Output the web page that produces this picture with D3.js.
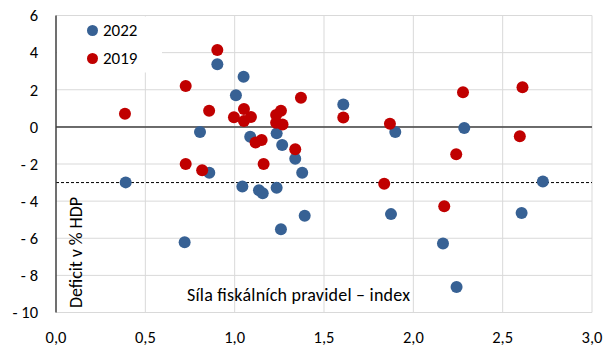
<!DOCTYPE html>
<html>
<head>
<meta charset="utf-8">
<script src="https://cdn.jsdelivr.net/npm/d3@7"></script>
<style>
  html, body { margin: 0; padding: 0; background: #fff; }
  svg { display: block; }
  text { font-family: Carlito, Lato, "Noto Sans", sans-serif; fill: #000; }
</style>
</head>
<body>
<svg id="chart" width="611" height="352"></svg>
<script>
// Fiscal-rule strength index (x) against budget deficit, % of GDP (y)
const series = ["2022", "2019"];
const colors = ["#376194", "#C00000"];

const index2022 = [0.39, 0.72, 0.806, 0.903, 0.858, 1.050, 1.007, 1.087, 1.235, 1.266,
                   1.339, 1.378, 1.608, 1.899, 2.285, 1.043, 1.136, 1.157, 1.235, 1.392,
                   1.259, 1.875, 2.166, 2.242, 2.606, 2.725];
const deficit2022 = [-2.99, -6.21, -0.28, 3.37, -2.47, 2.70, 1.71, -0.53, -0.35, -0.98,
                     -1.72, -2.47, 1.21, -0.28, -0.06, -3.21, -3.41, -3.58, -3.28, -4.79,
                     -5.51, -4.70, -6.28, -8.63, -4.64, -2.94];

const index2019 = [0.386, 0.726, 0.903, 0.857, 0.726, 0.818, 0.996, 1.052, 1.052, 1.091,
                   1.117, 1.151, 1.162, 1.232, 1.259, 1.232, 1.268, 1.371, 1.339, 1.608,
                   1.869, 1.837, 2.278, 2.240, 2.611, 2.596, 2.173];
const deficit2019 = [0.71, 2.20, 4.14, 0.87, -2.00, -2.34, 0.52, 0.96, 0.31, 0.53,
                     -0.84, -0.71, -2.00, 0.64, 0.87, 0.22, 0.13, 1.57, -1.20, 0.51,
                     0.17, -3.07, 1.86, -1.48, 2.14, -0.50, -4.27];

const xTicks = [0, 0.5, 1, 1.5, 2, 2.5, 3];
const yTicks = [6, 4, 2, 0, -2, -4, -6, -8, -10];
const limitLine = -3; // 3 % deficit reference

const xTitle = "Síla fiskálních pravidel – index";
const yTitle = "Deficit v % HDP";

const svg = d3.select("#chart");
const m = { left: 56, right: 19, top: 15.5, bottom: 39.5 };
const W = 611, H = 352;

const x = d3.scaleLinear().domain([0, 3]).range([m.left, W - m.right]);
const y = d3.scaleLinear().domain([-10, 6]).range([H - m.bottom, m.top]);

const fmtX = d3.format(".1f");
const xLabel = v => fmtX(v).replace(".", ",");
const yLabel = v => v < 0 ? "- " + Math.abs(v) : String(v);

// gridlines
const grid = svg.append("g").attr("stroke", "#D9D9D9").attr("stroke-width", 1);
grid.selectAll("line.h").data(yTicks).join("line")
  .attr("x1", x(0)).attr("x2", x(3))
  .attr("y1", d => y(d)).attr("y2", d => y(d));
grid.selectAll("line.v").data(xTicks.slice(1)).join("line")
  .attr("x1", d => x(d)).attr("x2", d => x(d))
  .attr("y1", y(6)).attr("y2", y(-10));

// 3 % limit
svg.append("line")
  .attr("x1", x(0)).attr("x2", x(3))
  .attr("y1", y(limitLine)).attr("y2", y(limitLine))
  .attr("stroke", "#000").attr("stroke-width", 1).attr("stroke-dasharray", "3,2");

// zero line and left axis
svg.append("line")
  .attr("x1", x(0)).attr("x2", x(3)).attr("y1", y(0)).attr("y2", y(0))
  .attr("stroke", "#404040").attr("stroke-width", 1.5);
svg.append("line")
  .attr("x1", x(0)).attr("x2", x(0)).attr("y1", y(6)).attr("y2", y(-10))
  .attr("stroke", "#404040").attr("stroke-width", 1.5);

// tick labels
svg.append("g").selectAll("text").data(yTicks).join("text")
  .attr("x", 38).attr("y", d => y(d)).attr("dy", "0.35em")
  .attr("text-anchor", "end").attr("font-size", 16.5).text(yLabel);
svg.append("g").selectAll("text").data(xTicks).join("text")
  .attr("x", d => x(d)).attr("y", 343)
  .attr("text-anchor", "middle").attr("font-size", 16.5).text(xLabel);

// axis titles
svg.append("text").attr("x", 187).attr("y", 301)
  .attr("font-size", 18).attr("textLength", 223).attr("lengthAdjust", "spacing")
  .text(xTitle);
svg.append("text").attr("transform", "translate(81.5,308) rotate(-90)")
  .attr("font-size", 18).attr("textLength", 111).attr("lengthAdjust", "spacing")
  .text(yTitle);

// points: 2022 first, 2019 on top
const sets = [
  d3.zip(index2022, deficit2022),
  d3.zip(index2019, deficit2019)
];
sets.forEach((pts, i) => {
  svg.append("g").selectAll("circle").data(pts).join("circle")
    .attr("cx", d => x(d[0])).attr("cy", d => y(d[1]))
    .attr("r", 6).attr("fill", colors[i]);
});

// legend
const lg = svg.append("g");
lg.append("rect").attr("x", x(0) + 1).attr("y", y(6) + 1)
  .attr("width", 105).attr("height", 56).attr("fill", "#fff");
series.forEach((s, i) => {
  lg.append("circle").attr("cx", 92.5).attr("cy", 30.5 + i * 28)
    .attr("r", 5.5).attr("fill", colors[i]);
  lg.append("text").attr("x", 103).attr("y", 30.5 + i * 28).attr("dy", "0.35em")
    .attr("font-size", 17).text(s);
});
</script>
</body>
</html>
